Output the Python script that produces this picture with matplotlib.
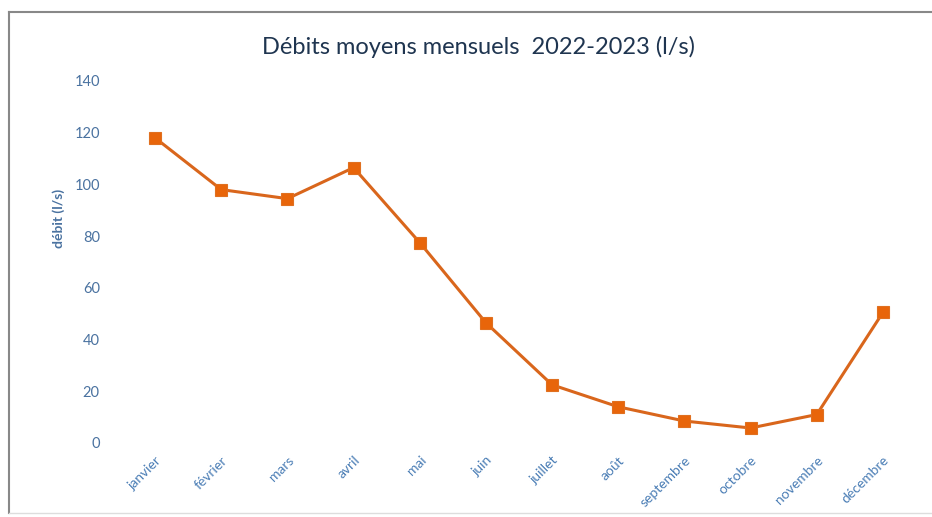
import matplotlib
matplotlib.use("Agg")
import matplotlib.pyplot as plt
from matplotlib.lines import Line2D

months = ["janvier", "février", "mars", "avril", "mai", "juin", "juillet",
          "août", "septembre", "octobre", "novembre", "décembre"]
debit = [118, 98, 94.5, 106.5, 77.5, 46.5, 22.5, 14, 8.5, 5.8, 11, 50.5]
yticks = [0, 20, 40, 60, 80, 100, 120, 140]

plt.rcParams['font.family'] = ['Lato', 'DejaVu Sans']

fig = plt.figure(figsize=(9.32, 5.17), dpi=100)
ax = fig.add_axes([122/932, 1-443/517, (916-122)/932, (443-81)/517])

x = list(range(len(months)))
ax.plot(x, debit, color="#D9661C", linewidth=2.2, marker="s", markersize=9,
        markerfacecolor="#E8650A", markeredgecolor="#E07020", markeredgewidth=0.8)

ax.set_xlim(-0.5, len(months) - 0.5)
ax.set_ylim(0, 140)
ax.set_yticks(yticks)
ax.set_yticklabels([str(v) for v in yticks], color="#4A72A0", fontsize=10.5)
ax.set_xticks(x)
ax.set_xticklabels(months, rotation=45, ha="right", rotation_mode="anchor",
                   color="#4A7DB5", fontsize=10)
ax.tick_params(axis="both", length=0)
ax.tick_params(axis="y", pad=16)
ax.tick_params(axis="x", pad=8)
for s in ax.spines.values():
    s.set_visible(False)

ax.set_ylabel("débit (l/s)", color="#4A72A0", fontsize=10, fontweight="bold")
ax.yaxis.set_label_coords(-0.072, 0.62)

fig.text(479/932, 1-47/517, "Débits moyens mensuels  2022-2023 (l/s)", ha="center", va="center",
         fontsize=17, color="#1F3550")

# figure frame
fig.add_artist(Line2D([9/932, 9/932], [1-12/517, 1-513/517], transform=fig.transFigure,
                      color="#888888", linewidth=1.5))
fig.add_artist(Line2D([9/932, 1], [1-12/517, 1-12/517], transform=fig.transFigure,
                      color="#888888", linewidth=1.5))
fig.add_artist(Line2D([9/932, 1], [1-513/517, 1-513/517], transform=fig.transFigure,
                      color="#DDDDDD", linewidth=1.0))

fig.savefig("out.png", dpi=100)
